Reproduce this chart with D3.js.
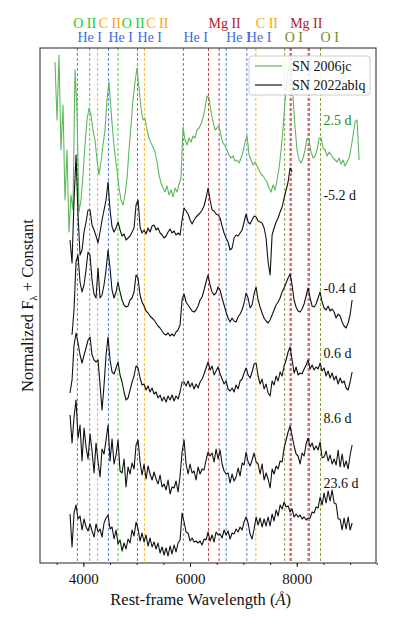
<!DOCTYPE html>
<html>
<head>
<meta charset="utf-8">
<script src="https://cdn.jsdelivr.net/npm/d3@7/dist/d3.min.js"></script>
<style>
body { margin: 0; background: #fff; }
text { font-family: "Liberation Serif", "DejaVu Serif", serif; }
</style>
</head>
<body>
<div id="chart"></div>
<script>
var step = 37.5;

// SN 2006jc, +2.5 d
var start06jc = 3469;
var flux06jc = [50.1, 44.3, 50.8, 41.3, 45.8, 36.3, 41.3, 33.1, 36.8, 35.3,
  49.3, 45.3, 35.1, 36.3, 38.8, 41.8, 44.3, 45.5, 44.8, 43.3,
  42.3, 40.3, 38.8, 40.1, 41.8, 43.3, 46.3, 48.1, 45.3, 42.8,
  40.8, 39.3, 37.5, 36.3, 35.8, 36.8, 38.5, 41.3, 43.8, 46.3,
  48.1, 49.5, 47.5, 45.5, 44.3, 44.5, 43.3, 42.5, 42.0, 41.6,
  41.1, 40.1, 38.8, 38.0, 37.5, 37.1, 37.7, 36.8, 37.3, 36.6,
  37.5, 37.1, 37.9, 38.5, 43.6, 42.3, 41.8, 42.5, 42.1, 42.7,
  42.5, 43.3, 43.5, 43.9, 44.5, 45.5, 46.7, 46.5, 45.1, 44.1,
  43.3, 43.5, 43.7, 42.7, 42.0, 41.7, 41.3, 40.8, 40.5, 40.7,
  40.2, 40.3, 40.0, 40.5, 41.1, 42.1, 42.7, 40.8, 40.3, 39.8,
  40.1, 39.7, 39.3, 38.9, 38.7, 38.4, 38.1, 37.5, 37.1, 37.8,
  37.3, 38.3, 39.5, 41.3, 43.5, 46.3, 48.3, 49.8, 49.3, 46.5,
  43.5, 41.3, 40.3, 40.0, 40.5, 41.3, 42.5, 42.3, 41.1, 40.5,
  40.7, 41.3, 42.5, 42.5, 41.5, 41.3, 40.7, 41.1, 40.8, 40.5,
  40.3, 40.1, 40.5, 39.9, 40.3, 39.7, 40.1, 40.5, 41.5, 42.8,
  44.1, 44.3, 40.3];

// SN 2022ablq, -5.2 d
var startM52 = 3751;
var fluxM52 = [32.3, 30.0, 36.3, 40.8, 34.8, 30.8, 31.3, 33.1, 34.1, 35.3,
  35.3, 33.8, 33.3, 32.7, 32.0, 33.1, 34.3, 35.3, 36.3, 38.1,
  35.3, 33.6, 33.1, 33.5, 34.1, 33.3, 32.7, 32.9, 32.3, 32.5,
  32.7, 33.1, 33.5, 35.8, 36.3, 33.6, 33.0, 33.3, 32.9, 33.5,
  33.1, 33.7, 33.8, 33.3, 33.5, 33.0, 32.8, 32.5, 32.7, 33.1,
  33.4, 33.0, 33.2, 32.8, 33.0, 32.8, 34.3, 35.5, 35.2, 34.9,
  34.3, 33.9, 34.3, 34.6, 34.8, 35.0, 35.3, 35.7, 36.5, 37.5,
  36.3, 35.3, 35.2, 34.9, 34.8, 34.5, 33.7, 33.0, 32.5, 32.1,
  31.3, 31.5, 32.5, 32.8, 32.7, 33.0, 33.3, 34.1, 34.9, 34.1,
  33.9, 34.3, 34.7, 34.6, 34.2, 34.1, 34.0, 33.5, 32.5, 30.1,
  28.8, 32.8, 33.5, 34.1, 34.5, 35.1, 35.6, 36.5, 37.3, 38.1,
  39.5, 39.1];

// SN 2022ablq, -0.4 d
var startM04 = 3788;
var fluxM04 = [22.8, 25.3, 30.1, 30.8, 28.1, 27.1, 27.8, 29.3, 31.1, 30.8,
  28.3, 26.9, 26.5, 29.5, 26.5, 26.8, 27.8, 29.3, 31.3, 29.5,
  27.3, 26.5, 27.1, 28.1, 27.1, 26.3, 25.8, 25.6, 25.7, 26.3,
  26.5, 27.1, 28.8, 28.5, 26.8, 26.1, 25.7, 25.2, 25.0, 24.7,
  24.5, 24.3, 24.0, 23.7, 23.5, 23.2, 22.9, 22.8, 23.0, 22.7,
  22.9, 22.7, 23.1, 23.3, 23.8, 26.3, 26.9, 26.1, 25.8, 25.5,
  25.2, 25.1, 25.3, 25.7, 26.3, 26.6, 27.3, 28.1, 28.8, 27.8,
  27.1, 26.8, 27.0, 27.6, 27.3, 26.5, 25.8, 25.1, 24.5, 24.1,
  24.5, 24.2, 24.1, 24.6, 24.9, 25.3, 26.0, 27.0, 26.5, 25.5,
  25.8, 26.9, 27.6, 26.3, 25.6, 25.0, 24.5, 24.2, 24.0, 24.3,
  24.8, 25.3, 25.8, 26.1, 26.5, 27.1, 27.5, 28.0, 28.5, 28.9,
  27.8, 26.3, 25.6, 25.2, 25.1, 25.4, 25.9, 26.7, 27.5, 26.5,
  25.7, 25.6, 25.9, 26.5, 27.1, 26.1, 25.5, 25.3, 25.7, 25.2,
  25.4, 25.1, 24.5, 24.9, 24.7, 24.1, 23.7, 23.5, 24.0, 24.8,
  26.3];

// SN 2022ablq, +0.6 d
var startP06 = 3751;
var fluxP06 = [17.0, 18.3, 21.8, 23.0, 22.0, 20.8, 20.0, 20.8, 21.5, 22.3,
  22.6, 20.8, 20.3, 20.1, 20.3, 17.8, 15.3, 17.8, 20.8, 22.6,
  20.3, 19.1, 18.9, 19.5, 20.1, 18.8, 18.1, 17.1, 16.3, 16.5,
  17.3, 18.1, 18.7, 19.7, 19.5, 18.5, 17.8, 17.9, 17.3, 17.7,
  17.1, 17.5, 16.9, 17.1, 16.5, 16.8, 16.2, 16.6, 16.1, 16.7,
  16.3, 16.8, 16.2, 16.7, 16.4, 17.1, 18.1, 18.1, 17.7, 18.2,
  17.6, 18.0, 17.4, 17.9, 17.5, 18.1, 18.4, 18.9, 19.5, 20.1,
  19.3, 19.7, 18.8, 19.2, 19.6, 18.9, 18.4, 17.9, 18.2, 17.4,
  17.2, 17.5, 17.1, 17.8, 17.4, 18.2, 18.4, 19.0, 19.5, 18.8,
  18.5, 19.1, 19.9, 20.0, 18.7, 17.9, 18.4, 17.4, 17.9, 17.0,
  16.7, 18.2, 17.8, 18.7, 18.2, 19.1, 18.7, 19.7, 20.3, 21.1,
  21.6, 20.3, 19.0, 19.6, 18.8, 19.0, 18.9, 19.4, 19.8, 20.3,
  19.4, 19.8, 19.3, 19.6, 19.4, 20.0, 19.2, 19.5, 18.7, 19.2,
  18.5, 19.0, 18.3, 18.7, 17.9, 18.5, 18.0, 18.2, 17.5, 17.3,
  18.1, 19.1];

// SN 2022ablq, +8.6 d
var startP86 = 3751;
var fluxP86 = [14.8, 12.0, 14.6, 16.3, 12.5, 13.8, 10.2, 13.5, 11.6, 10.4,
  12.9, 11.2, 9.0, 12.0, 10.1, 8.6, 11.4, 10.9, 12.3, 13.8,
  10.2, 12.4, 9.9, 10.8, 12.3, 9.2, 9.0, 10.4, 7.6, 9.6,
  8.9, 10.0, 9.4, 11.8, 12.3, 10.1, 8.8, 9.9, 8.4, 9.7,
  8.9, 8.3, 9.1, 8.4, 7.9, 8.8, 7.6, 7.9, 7.3, 8.3,
  6.9, 7.6, 7.5, 8.2, 7.1, 8.7, 11.1, 12.3, 9.9, 8.9,
  9.9, 9.0, 9.2, 8.3, 9.6, 8.9, 9.4, 9.3, 10.3, 11.1,
  10.7, 11.0, 10.1, 11.4, 10.4, 11.3, 9.9, 9.2, 8.9, 9.0,
  8.0, 8.9, 8.2, 8.6, 9.5, 8.7, 10.0, 9.8, 11.1, 10.1,
  9.7, 10.3, 11.0, 10.1, 9.9, 8.9, 9.9, 8.3, 9.0, 8.4,
  7.5, 9.4, 8.9, 9.7, 9.4, 10.2, 10.1, 11.5, 12.3, 13.1,
  13.7, 12.7, 11.7, 10.9, 10.7, 9.9, 11.0, 10.7, 11.9, 12.5,
  11.6, 12.0, 11.3, 11.7, 11.3, 12.1, 10.5, 10.6, 11.2, 10.2,
  10.8, 9.9, 10.4, 9.8, 11.3, 9.6, 10.9, 9.6, 10.2, 9.4,
  10.8, 11.8];

// SN 2022ablq, +23.6 d
var startP236 = 3751;
var fluxP236 = [4.9, 1.6, 5.0, 5.8, 4.4, 4.7, 3.3, 4.4, 3.6, 3.2,
  3.9, 3.2, 2.6, 3.9, 3.1, 3.4, 2.6, 4.0, 4.5, 4.8,
  3.4, 3.6, 2.4, 3.3, 1.9, 2.3, 1.2, 2.0, 1.4, 2.4,
  2.0, 3.3, 2.7, 4.1, 3.4, 2.2, 3.0, 2.1, 2.8, 1.7,
  2.5, 1.6, 2.1, 1.4, 2.0, 1.0, 1.6, 0.8, 1.5, 0.7,
  1.7, 0.9, 1.8, 1.1, 2.0, 2.3, 5.0, 4.1, 3.1, 3.0,
  2.2, 2.5, 2.1, 2.2, 2.0, 2.2, 1.8, 2.4, 2.3, 3.1,
  2.2, 2.8, 2.1, 3.1, 2.8, 2.9, 2.5, 3.3, 2.8, 3.2,
  2.4, 3.0, 2.9, 3.4, 3.1, 3.6, 3.3, 4.1, 4.6, 4.0,
  2.9, 2.4, 3.4, 4.6, 3.8, 4.5, 3.6, 4.4, 3.7, 4.6,
  3.7, 4.9, 4.2, 5.3, 4.7, 5.8, 5.4, 6.1, 5.6, 5.7,
  5.1, 5.4, 4.6, 4.9, 4.6, 4.8, 4.4, 4.6, 4.3, 4.5,
  4.5, 5.1, 5.0, 5.6, 5.5, 6.6, 5.8, 7.0, 6.0, 7.2,
  6.2, 7.3, 6.0, 5.9, 4.4, 4.4, 3.3, 4.5, 3.4, 4.6,
  3.3, 4.0];

// epoch labels (placed at wavelength epochWave, flux epochFlux)
var epochText = ["2.5 d", "-5.2 d", "-0.4 d", "0.6 d", "8.6 d", "23.6 d"];
var epochFlux = [43.8, 36.3, 27.0, 20.5, 14.0, 7.5];
var epochWave = 8500;

// line identifications (rest wavelength, Angstrom)
var heI = [3889, 4471, 5016, 5876, 6678, 7065];
var oII = [4119, 4649];
var cII = [4267, 5145, 7234];
var mgII = [6346, 6545, 7877, 7896, 8214, 8235];
var oI = [7774, 8446];

// labels above the frame
var topRowText = ["O II", "C II", "O II", "C II", "Mg II", "C II", "Mg II"];
var topRowWave = [3810, 4290, 4720, 5180, 6346, 7234, 7877];
var lowRowText = ["He I", "He I", "He I", "He I", "He I", "He I", "O I", "O I"];
var lowRowWave = [3889, 4471, 5016, 5876, 6678, 7065, 7774, 8446];

var xTicks = [4000, 6000, 8000];

var ionColor = {
  "He I": "#4169e1",
  "O II": "#22cc22",
  "C II": "#ffa500",
  "Mg II": "#b22222",
  "O I": "#6b8e23"
};

// set the dimensions and margins of the graph
var margin = {top: 48, right: 19, bottom: 68, left: 40},
    width = 395 - margin.left - margin.right,
    height = 631 - margin.top - margin.bottom;

var xScale = d3.scaleLinear().domain([3188, 9486]).range([0, width]);
var yScale = d3.scaleLinear().domain([0, 51.5]).range([height, 0]);

var svg = d3.select("#chart").append("svg")
    .attr("width", width + margin.left + margin.right)
    .attr("height", height + margin.top + margin.bottom)
  .append("g")
    .attr("transform", "translate(" + margin.left + "," + margin.top + ")");

svg.append("clipPath").attr("id", "plotclip")
  .append("rect").attr("width", width).attr("height", height);

// dashed line markers
var markers = [];
heI.forEach(function(w) { markers.push({w: w, ion: "He I"}); });
oII.forEach(function(w) { markers.push({w: w, ion: "O II"}); });
cII.forEach(function(w) { markers.push({w: w, ion: "C II"}); });
mgII.forEach(function(w) { markers.push({w: w, ion: "Mg II"}); });
oI.forEach(function(w) { markers.push({w: w, ion: "O I"}); });

svg.append("g").selectAll("line")
  .data(markers)
  .enter().append("line")
    .attr("x1", function(d) { return xScale(d.w); })
    .attr("x2", function(d) { return xScale(d.w); })
    .attr("y1", 0)
    .attr("y2", height)
    .attr("stroke", function(d) { return ionColor[d.ion]; })
    .attr("stroke-width", 1)
    .attr("stroke-dasharray", "3,2")
    .attr("opacity", 0.85);

// the spectra
var spectra = [
  {start: start06jc, flux: flux06jc, color: "#5cb85c"},
  {start: startM52, flux: fluxM52, color: "#111"},
  {start: startM04, flux: fluxM04, color: "#111"},
  {start: startP06, flux: fluxP06, color: "#111"},
  {start: startP86, flux: fluxP86, color: "#111"},
  {start: startP236, flux: fluxP236, color: "#111"}
];

var specG = svg.append("g").attr("clip-path", "url(#plotclip)");
spectra.forEach(function(s) {
  var line = d3.line()
      .x(function(d, i) { return xScale(s.start + i * step); })
      .y(function(d) { return yScale(d); });
  specG.append("path")
      .datum(s.flux)
      .attr("fill", "none")
      .attr("stroke", s.color)
      .attr("stroke-width", 1.1)
      .attr("stroke-linejoin", "round")
      .attr("d", line);
});

// epoch labels
svg.append("g").selectAll("text")
  .data(epochText)
  .enter().append("text")
    .attr("x", xScale(epochWave))
    .attr("y", function(d, i) { return yScale(epochFlux[i]); })
    .attr("font-size", "14px")
    .attr("fill", function(d, i) { return i === 0 ? "#1a8a1a" : "#111"; })
    .text(function(d) { return d; });

// ion labels above the axes
svg.append("g").selectAll("text")
  .data(topRowText)
  .enter().append("text")
    .attr("x", function(d, i) { return xScale(topRowWave[i]); })
    .attr("y", -20)
    .attr("font-size", "14px")
    .attr("fill", function(d) { return ionColor[d]; })
    .text(function(d) { return d; });

svg.append("g").selectAll("text")
  .data(lowRowText)
  .enter().append("text")
    .attr("x", function(d, i) { return xScale(lowRowWave[i]); })
    .attr("y", -6)
    .attr("font-size", "14px")
    .attr("fill", function(d) { return ionColor[d]; })
    .text(function(d) { return d; });

// frame
svg.append("rect")
    .attr("width", width)
    .attr("height", height)
    .attr("fill", "none")
    .attr("stroke", "#222")
    .attr("stroke-width", 1);

// Add the X Axis (major + minor ticks)
var xAxis = svg.append("g")
    .attr("transform", "translate(0," + height + ")")
    .call(d3.axisBottom(xScale).tickValues(xTicks).tickSize(4).tickFormat(d3.format("d")));
xAxis.select(".domain").remove();
xAxis.selectAll("text").attr("font-size", "15px").attr("font-family", "Liberation Serif").attr("fill", "#111").attr("dy", "0.95em");
xAxis.selectAll("line").attr("stroke", "#222");

var minor = svg.append("g")
    .attr("transform", "translate(0," + height + ")")
    .call(d3.axisBottom(xScale).tickValues(d3.range(3500, 9501, 500)).tickSize(2).tickFormat(""));
minor.select(".domain").remove();
minor.selectAll("line").attr("stroke", "#222");

// axis labels
var xl = svg.append("text")
    .attr("x", xScale(6200))
    .attr("y", height + 42)
    .attr("text-anchor", "middle")
    .attr("font-size", "16.5px")
    .attr("fill", "#111");
xl.append("tspan").text("Rest-frame Wavelength (");
xl.append("tspan").attr("font-style", "italic").text("Å");
xl.append("tspan").text(")");

var yl = svg.append("text")
    .attr("transform", "translate(-7," + (height / 2) + ") rotate(-90)")
    .attr("text-anchor", "middle")
    .attr("font-size", "16.5px")
    .attr("fill", "#111");
yl.append("tspan").text("Normalized F");
yl.append("tspan").attr("font-size", "11px").attr("dy", "4").text("λ");
yl.append("tspan").attr("dy", "-4").text(" + Constant");

// legend
var legend = svg.append("g").attr("transform", "translate(" + (width - 127) + ",8)");
legend.append("rect")
    .attr("width", 121).attr("height", 39)
    .attr("rx", 3)
    .attr("fill", "#fff").attr("fill-opacity", 0.85)
    .attr("stroke", "#ccc");
var legendItems = [{name: "SN 2006jc", color: "#5cb85c"}, {name: "SN 2022ablq", color: "#111"}];
legendItems.forEach(function(d, i) {
  legend.append("line")
      .attr("x1", 6).attr("x2", 33)
      .attr("y1", 10 + i * 19).attr("y2", 10 + i * 19)
      .attr("stroke", d.color).attr("stroke-width", 1.2);
  legend.append("text")
      .attr("x", 43).attr("y", 15 + i * 19)
      .attr("font-size", "14px")
      .attr("fill", "#111")
      .text(d.name);
});
</script>
</body>
</html>
